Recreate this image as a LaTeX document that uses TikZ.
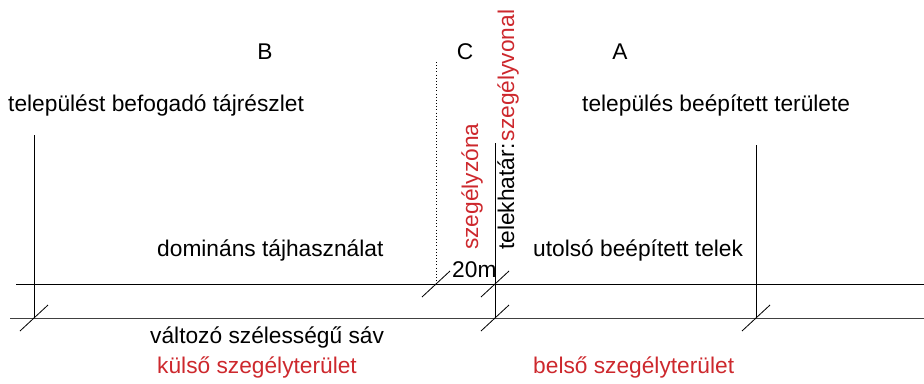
\documentclass[tikz,border=0pt]{standalone}
\usepackage{fontspec}
\setmainfont{Liberation Sans}
\usetikzlibrary{calc}
\definecolor{szred}{RGB}{205,40,45}

\begin{document}
\begin{tikzpicture}[x=0.03cm,y=-0.03cm]
    \def\ty{284}  % y of the upper band line
    \def\by{318}  % y of the lower band line
    \tikzset{lbl/.style={font=\fontsize{19.4}{23}\selectfont, inner sep=0pt},
             band/.style={line width=0.8pt}}
    \def\slash#1{\draw[line width=0.7pt] ($(#1)+(-14,13)$) -- ($(#1)+(14,-13)$);}

    \useasboundingbox (0,0) rectangle (924,383);

    % Calculate the coordinates of the points
    \coordinate (TL) at (16,\ty);
    \coordinate (TR) at (924,\ty);
    \coordinate (BL) at (10,\by);
    \coordinate (BR) at (924,\by);
    \coordinate (Bt) at (34,135);
    \coordinate (Bb) at (34,\by);
    \coordinate (Ct) at (436,62);
    \coordinate (Cb) at (436,\ty);
    \coordinate (Ht) at (495,143);
    \coordinate (Hm) at (495,\ty);
    \coordinate (Hb) at (495,\by);
    \coordinate (At) at (756,145);
    \coordinate (Ab) at (756,\by);

    % Draw the band
    \draw[band] (TL) -- (TR);
    \draw[band, black!75] (BL) -- (BR);

    % Draw vertical lines
    \draw[band] (Bt) -- (Bb);
    \draw[dotted, line width=0.7pt] (Ct) -- (Cb);
    \draw[band] (Ht) -- (Hb);
    \draw[band] (At) -- (Ab);

    % Creates ticks at crossings
    \slash{Bb}
    \slash{Cb}
    \slash{Hm}
    \slash{Hb}
    \slash{Ab}

    % Zone letters
    \node[lbl, anchor=base] (zB) at (265,59) {B};
    \node[lbl, anchor=base] (zC) at (465,59) {C};
    \node[lbl, anchor=base] (zA) at (620,59) {A};

    % Texts
    \node[lbl, anchor=base west] (taj) at (8,111) {települést befogadó tájrészlet};
    \node[lbl, anchor=base west] (terulet) at (582,111) {település beépített területe};
    \node[lbl, anchor=base west] (dom) at (157,256) {domináns tájhasználat};
    \node[lbl, anchor=base west] (telek) at (533,256) {utolsó beépített telek};
    \node[lbl, anchor=base west] (m20) at (452,277) {20m};
    \node[lbl, anchor=base west] (sav) at (150,343) {változó szélességű sáv};
    \node[lbl, anchor=base west, szred] (kulso) at (157,373) {külső szegélyterület};
    \node[lbl, anchor=base west, szred] (belso) at (533,373) {belső szegélyterület};

    % Vertical texts
    \node[lbl, anchor=base west, rotate=90, szred] (zona) at (478,250) {szegélyzóna};
    \node[lbl, anchor=base west, rotate=90] (hatar) at (514,250) {telekhatár:\hspace{2pt}\textcolor{szred}{szegélyvonal}};

\end{tikzpicture}
\end{document}
